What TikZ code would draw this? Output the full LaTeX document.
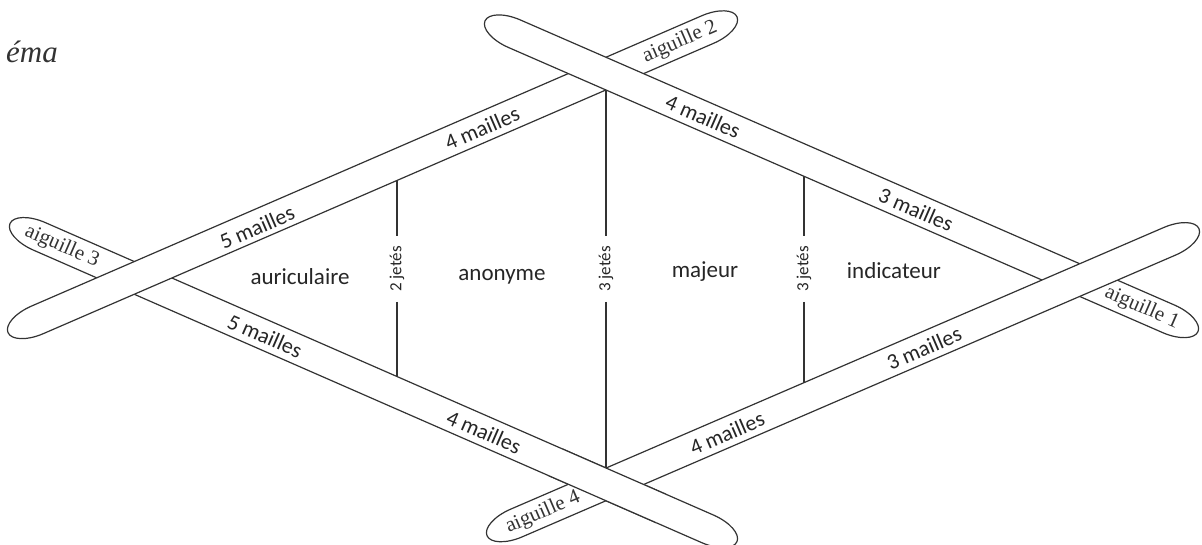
\documentclass[tikz,border=0pt]{standalone}
\usepackage{fontspec}
\setmainfont{Carlito}
\newfontfamily\serifn{Liberation Serif}
\newcommand\drawneedle[4]{%
  \begin{scope}[shift={(#1,#2)}, rotate=#3]
    \path[needleshape] (32,-15) -- ({#4-32},-15)
      arc[start angle=-90, end angle=90, x radius=32, y radius=15]
      -- (32,15)
      arc[start angle=90, end angle=270, x radius=32, y radius=15] -- cycle;
  \end{scope}}
\begin{document}
\begin{tikzpicture}[x=1pt,y=-1pt,
  needleshape/.style={draw=black!80, line width=1.2pt, fill=white},
  mail/.style={font=\fontsize{22}{24}\selectfont, text=black!85, inner sep=0pt},
  aig/.style={font=\serifn\fontsize{21}{23}\selectfont, text=black!80, inner sep=0pt},
  finger/.style={font=\fontsize{23}{25}\selectfont, text=black!85, inner sep=0pt, anchor=base},
  jete/.style={font=\fontsize{17}{19}\selectfont, rotate=90, fill=white, inner xsep=10pt, inner ysep=1pt, text=black!85},
  sepline/.style={draw=black!80, line width=1.1pt}]
\useasboundingbox (0,0) rectangle (1202,544);
\fill[white] (0,0) rectangle (1202,544);

% title fragment
\node[anchor=base west, inner sep=0pt, text=black!80, font=\serifn\itshape\fontsize{31}{33}\selectfont] (title) at (6,62) {éma};

% needles (drawing order resolves overlaps)
\drawneedle{10}{223.5}{-23.64}{793.6}   % aiguille 3 (lower left edge)
\drawneedle{8}{332.6}{23.42}{794.5}     % aiguille 2 (upper left edge)
\drawneedle{485}{20.9}{-23.55}{777.8}   % aiguille 1 (upper right edge)
\drawneedle{487}{535.7}{23.33}{775.4}   % aiguille 4 (lower right edge)
\begin{scope}
  \clip (606,490) circle[radius=60];
  \drawneedle{10}{223.5}{-23.64}{793.6}
\end{scope}

% separators
\coordinate (Lt) at (397,180.5); \coordinate (Lb) at (397,376.5);
\coordinate (Ct) at (606,90);    \coordinate (Cb) at (606,468);
\coordinate (Rt) at (804,176.3); \coordinate (Rb) at (804,382.6);
\node[jete] (J1) at (397,269) {2 jetés};
\node[jete] (J2) at (606,269) {3 jetés};
\node[jete] (J3) at (804,269) {3 jetés};
\draw[sepline] (Lt) -- (J1) -- (Lb);
\draw[sepline] (Ct) -- (J2) -- (Cb);
\draw[sepline] (Rt) -- (J3) -- (Rb);

% finger labels
\node[finger] (f1) at (300,284) {auriculaire};
\node[finger] (f2) at (502,280) {anonyme};
\node[finger] (f3) at (705,277) {majeur};
\node[finger] (f4) at (894,278) {indicateur};

% labels on needles
\node[mail, rotate=23.42] (m1) at (257,227) {5 mailles};
\node[mail, rotate=23.42] (m2) at (482,128) {4 mailles};
\node[aig,  rotate=23.42] (a2) at (680,42) {aiguille 2};
\node[mail, rotate=-23.55] (m3) at (703,116.5) {4 mailles};
\node[mail, rotate=-23.55] (m4) at (916,209.5) {3 mailles};
\node[aig,  rotate=-23.55] (a1) at (1142,308) {aiguille 1};
\node[aig,  rotate=-23.64] (a3) at (62,246.8) {aiguille 3};
\node[mail, rotate=-23.64] (m5) at (265,336) {5 mailles};
\node[mail, rotate=-23.64] (m6) at (484,432) {4 mailles};
\node[aig,  rotate=23.33] (a4) at (543,512.5) {aiguille 4};
\node[mail, rotate=23.33] (m7) at (727,433) {4 mailles};
\node[mail, rotate=23.33] (m8) at (924,348) {3 mailles};
\end{tikzpicture}
\end{document}
